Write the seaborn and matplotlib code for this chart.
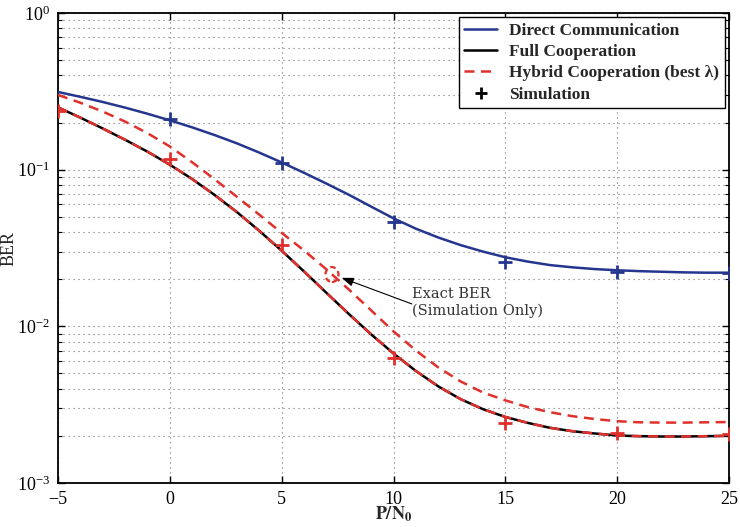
import numpy as np
import pandas as pd
import matplotlib
matplotlib.use("Agg")
import matplotlib.pyplot as plt
import seaborn as sns
from matplotlib.lines import Line2D
from matplotlib.patches import Ellipse
from matplotlib.transforms import ScaledTranslation
from matplotlib.ticker import LogLocator, NullFormatter

# SNR grid (dB) of the analytical curves
snr_db = list(range(-5, 26))
ber_direct = [0.3133, 0.2917, 0.2704, 0.2489, 0.2275, 0.2065, 0.1862, 0.1663,
              0.1472, 0.1285, 0.1112, 0.0955, 0.0815, 0.0692, 0.0581, 0.0489,
              0.0420, 0.0369, 0.0330, 0.0300, 0.0276, 0.0259, 0.0246, 0.0238,
              0.0232, 0.0228, 0.0225, 0.0223, 0.0221, 0.0220, 0.0220]
ber_full = [0.2500, 0.2148, 0.1832, 0.1552, 0.1303, 0.1076, 0.0871, 0.0690,
            0.0536, 0.0407, 0.0304, 0.0224, 0.01637, 0.0120, 0.00889, 0.00671,
            0.00519, 0.00414, 0.00343, 0.00296, 0.00264, 0.00242, 0.00225, 0.00214,
            0.00207, 0.00201, 0.00199, 0.00198, 0.00198, 0.00199, 0.00200]
ber_hybrid_best = [0.2500, 0.2148, 0.1832, 0.1552, 0.1303, 0.1076, 0.0871, 0.0690,
                   0.0536, 0.0407, 0.0304, 0.0224, 0.01637, 0.0120, 0.00889, 0.00671,
                   0.00519, 0.00414, 0.00343, 0.00296, 0.00264, 0.00242, 0.00225, 0.00214,
                   0.00207, 0.00201, 0.00199, 0.00198, 0.00198, 0.00199, 0.00200]
ber_hybrid_exact = [0.2999, 0.2673, 0.2350, 0.2028, 0.1710, 0.1406, 0.1114, 0.0869,
                    0.0671, 0.0516, 0.0395, 0.0305, 0.0231, 0.0172, 0.01265, 0.00929,
                    0.00701, 0.00547, 0.00445, 0.00378, 0.00337, 0.00305, 0.00283, 0.00267,
                    0.00256, 0.00248, 0.00244, 0.00243, 0.00243, 0.00244, 0.00245]

# Monte-Carlo points
sim_snr_direct = [0, 5, 10, 15, 20, 25]
sim_direct = [0.210, 0.110, 0.0461, 0.0259, 0.0223, 0.0220]
sim_snr_coop = [-5, 0, 5, 10, 15, 20, 25]
sim_coop = [0.236, 0.117, 0.033, 0.00625, 0.0024, 0.00208, 0.00205]

x_ticks = [-5, 0, 5, 10, 15, 20, 25]
legend_labels = ["Direct Communication", "Full Cooperation",
                 "Hybrid Cooperation (best \u03bb)", "Simulation"]
note_text = "Exact BER\n(Simulation Only)"
note_point = (7.25, 0.0214)
note_arrow_head = (7.68, 0.0204)
note_arrow_tail = (10.82, 0.0139)
note_text_pos = (10.82, 0.0142)

BLUE = "#25368f"
RED = "#e0302c"
DASH = (0, (4, 2.6))

sns.set_theme(style="ticks")
plt.rcParams["font.family"] = ["Liberation Serif", "DejaVu Serif"]
plt.rcParams["mathtext.fontset"] = "stix"

fig = plt.figure(figsize=(7.4, 5.27), dpi=100)
ax = fig.add_axes([58 / 740, 1 - 483 / 527, (729 - 58) / 740, (483 - 13) / 527])

curves = pd.DataFrame({
    "snr": snr_db,
    "direct": ber_direct,
    "full": ber_full,
    "hybrid_best": ber_hybrid_best,
    "hybrid_exact": ber_hybrid_exact,
})

sns.lineplot(data=curves, x="snr", y="direct", ax=ax, color=BLUE, lw=1.8, zorder=3)
sns.lineplot(data=curves, x="snr", y="full", ax=ax, color="black", lw=1.8, zorder=3)
sns.lineplot(data=curves, x="snr", y="hybrid_best", ax=ax, color=RED, lw=1.8, zorder=4)
ax.lines[-1].set_linestyle(DASH)
sns.lineplot(data=curves, x="snr", y="hybrid_exact", ax=ax, color=RED, lw=1.8, zorder=4)
ax.lines[-1].set_linestyle(DASH)

sns.scatterplot(x=sim_snr_direct, y=sim_direct, ax=ax, marker="+", s=90,
                color=BLUE, linewidth=2, zorder=5)
sns.scatterplot(x=sim_snr_coop, y=sim_coop, ax=ax, marker="+", s=90,
                color=RED, linewidth=2, zorder=5)

ax.set_yscale("log")
ax.set_xlim(-5, 25)
ax.set_ylim(1e-3, 1)
ax.set_xticks(x_ticks)
ax.yaxis.set_major_locator(LogLocator(base=10, numticks=10))
ax.yaxis.set_minor_locator(LogLocator(base=10, subs=np.arange(2, 10), numticks=20))
ax.yaxis.set_minor_formatter(NullFormatter())

grid_kw = dict(color="#707070", linestyle=(0, (1, 3.5)), lw=0.8)
ax.grid(True, which="major", axis="both", **grid_kw)
ax.grid(True, which="minor", axis="y", **grid_kw)

ax.tick_params(which="both", direction="in", top=True, right=True,
               labelsize=13, colors="black")
ax.tick_params(which="major", length=5, width=1, pad=6)
ax.tick_params(which="minor", length=3, width=0.8)
for s in ax.spines.values():
    s.set_linewidth(1.3)
    s.set_color("black")

ax.set_xlabel(r"$\mathbf{P/N_0}$", fontsize=13, labelpad=-3)
ax.set_ylabel("BER", fontsize=13)
ax.yaxis.set_label_coords(-0.061, 0.5)

# dashed ring around the exact-BER curve
ring = Ellipse((0, 0), 0.13, 0.15, fill=False, edgecolor=RED, lw=1.6,
               linestyle=(0, (2.5, 1.6)), zorder=6,
               transform=fig.dpi_scale_trans + ScaledTranslation(
                   note_point[0], note_point[1], ax.transData))
ax.add_patch(ring)

ax.annotate("", xy=note_arrow_head, xytext=note_arrow_tail,
            arrowprops=dict(arrowstyle="-|>,head_length=0.6,head_width=0.22",
                            color="black", lw=0.8, shrinkA=0, shrinkB=0), zorder=7)
ax.text(note_text_pos[0], note_text_pos[1], note_text, fontsize=10.5,
        family="DejaVu Serif", color="#333333", ha="left", va="center",
        linespacing=1.2, zorder=7)

handles = [
    Line2D([], [], color=BLUE, lw=1.8),
    Line2D([], [], color="black", lw=1.8),
    Line2D([], [], color=RED, lw=1.8, linestyle=DASH),
    Line2D([], [], color="black", lw=0, marker="+", markersize=8, mew=2),
]
leg = ax.legend(handles, legend_labels, loc="upper right",
                bbox_to_anchor=(1.0, 1.0), borderaxespad=0.25,
                prop={"family": "Liberation Serif", "weight": "bold", "size": 12.5},
                frameon=True, fancybox=False, framealpha=1, edgecolor="black",
                handlelength=1.9, handletextpad=0.7, labelspacing=0.3,
                borderpad=0.3)
leg.get_frame().set_linewidth(1.0)
leg.set_zorder(10)

fig.savefig("out.png", dpi=100)
